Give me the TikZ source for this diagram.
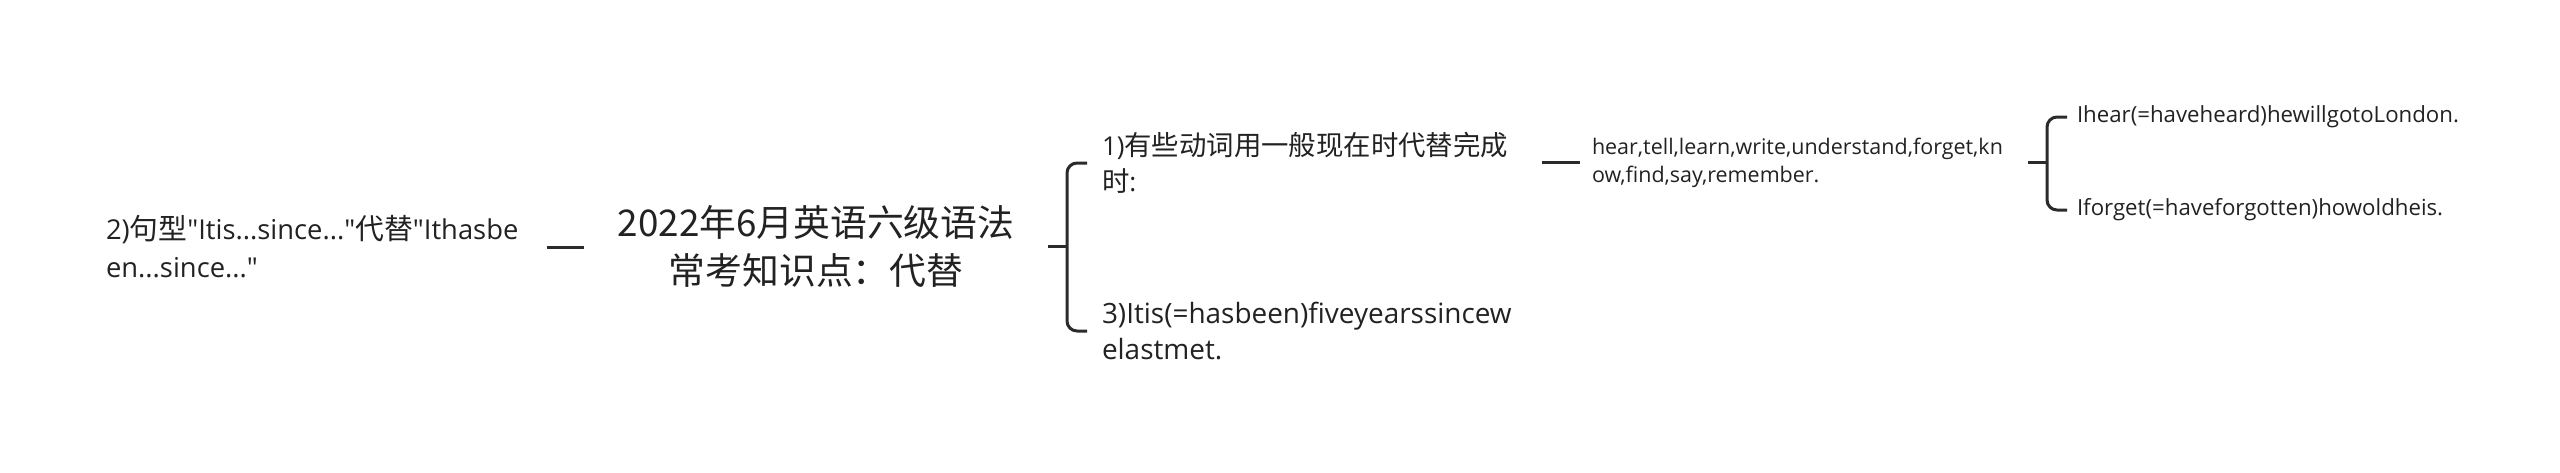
\documentclass[tikz,border=0pt]{standalone}
\usepackage{fontspec}
\setmainfont{Open Sans}[Scale=0.95]
\newfontfamily\qfont{Open Sans}[Scale=0.95,Ligatures=ResetAll]
\newfontfamily\cjk{Noto Sans CJK SC}
\newcommand\dq{{\qfont\symbol{34}}}
\definecolor{textc}{HTML}{222222}
\definecolor{linec}{HTML}{2B2B2B}
\begin{document}
\begin{tikzpicture}[x=0.5pt,y=-0.5pt,
  txt/.style={inner sep=0pt, outer sep=0pt, text=textc, align=left, anchor=west},
  big/.style={font=\cjk\fontsize{18.4}{24}\selectfont},
  mid/.style={font=\fontsize{13.7}{18}\selectfont},
  midl/.style={font=\fontsize{14.7}{18}\selectfont},
  lefttxt/.style={font=\fontsize{14.4}{19}\selectfont},
  small/.style={font=\fontsize{11.3}{14}\selectfont},
  leaf/.style={font=\fontsize{11.7}{14}\selectfont},
  link/.style={line width=1.5pt, draw=linec},
  brace/.style={link, rounded corners=5pt}]
\useasboundingbox (0,0) rectangle (2560,472);

% nodes
\node[txt,lefttxt] (L) at (106,247) {2){\cjk 句型}\dq Itis...since...\dq{\cjk 代替}\dq Ithasbe\\en...since...\dq};
\node[txt,big,align=center,anchor=center] (C) at (816,246) {2022年6月英语六级语法\\常考知识点：代替};
\node[txt,mid] (N1) at (1102,163) {1){\cjk 有些动词用一般现在时代替完成}\\{\cjk 时}:};
\node[txt,midl] (N3) at (1102,331) {3)Itis(=hasbeen)fiveyearssincew\\elastmet.};
\node[txt,small] (H) at (1592,163) {hear,tell,learn,write,understand,forget,kn\\ow,find,say,remember.};
\node[txt,leaf] (A) at (2077,117) {Ihear(=haveheard)hewillgotoLondon.};
\node[txt,leaf] (B) at (2077,210) {Iforget(=haveforgotten)howoldheis.};

% connector end points
\coordinate (l1) at (547,247);
\coordinate (l2) at (584,247);
\coordinate (c1) at (1048,246.5);
\coordinate (b1) at (1067,246.5);
\coordinate (n1) at (1542,162);
\coordinate (h1) at (1580,162);
\coordinate (h2) at (2028,162.5);
\coordinate (b2) at (2047,162.5);

% connectors
\draw[link] (l1) -- (l2);
\draw[link] (c1) -- (b1);
\draw[brace] ([xshift=-7.5pt]N1.west) -| (b1) |- ([xshift=-7.5pt]N3.west);
\draw[link] (n1) -- (h1);
\draw[link] (h2) -- (b2);
\draw[brace] ([xshift=-5pt]A.west) -| (b2) |- ([xshift=-5pt]B.west);
\end{tikzpicture}
\end{document}
